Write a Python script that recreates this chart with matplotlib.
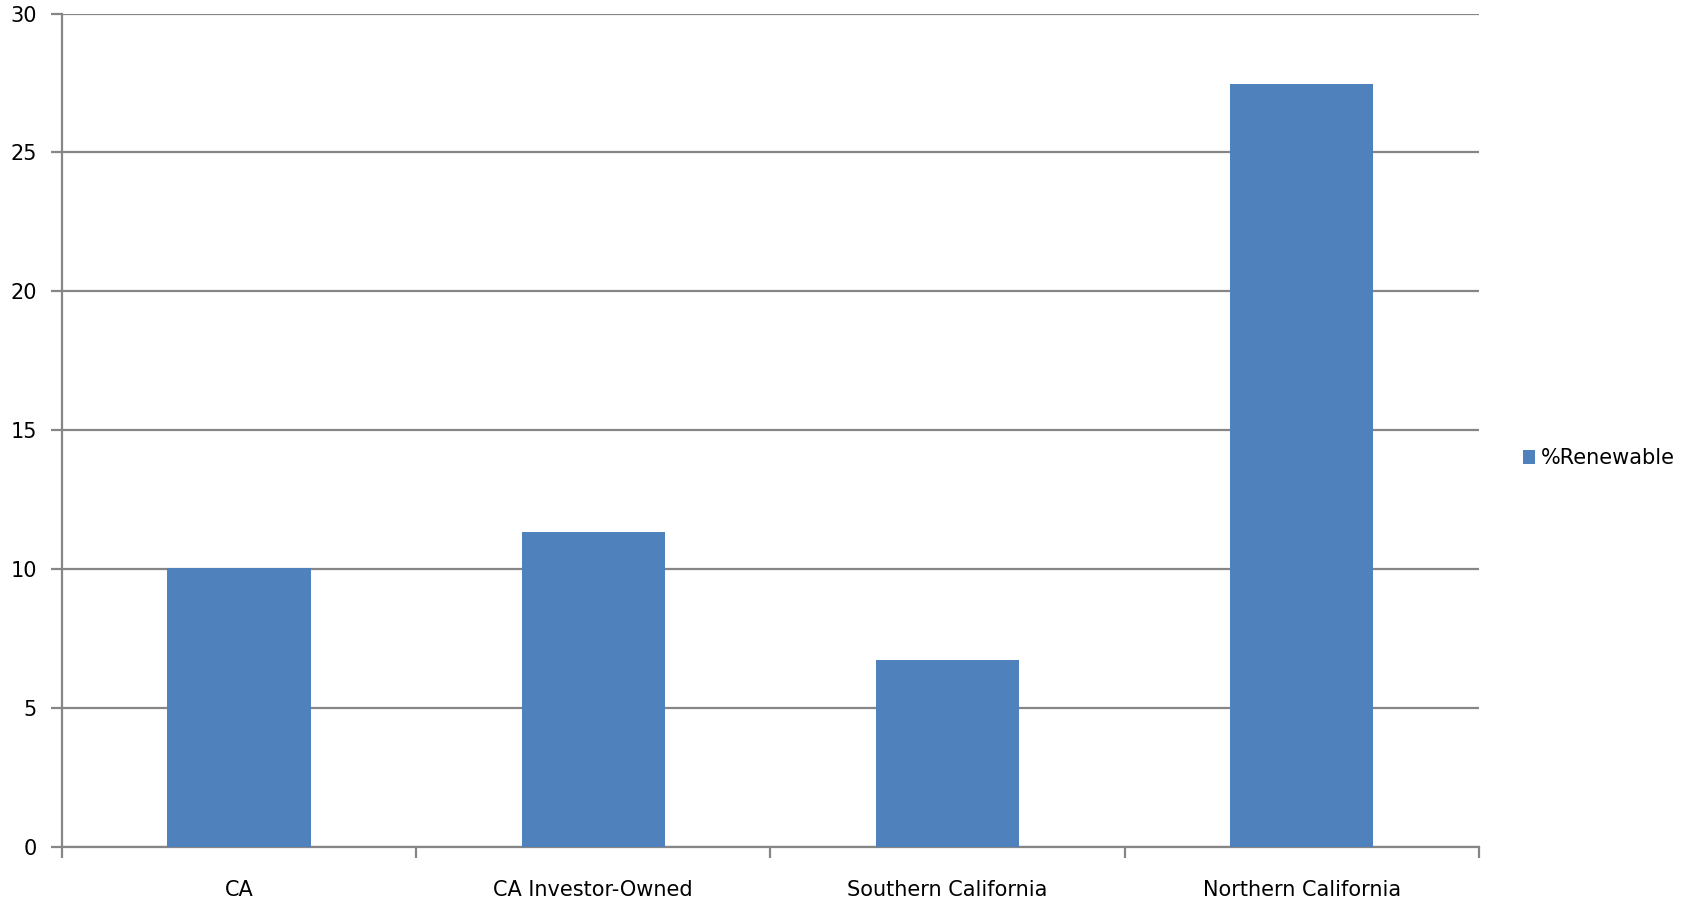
import matplotlib
matplotlib.use("Agg")
import matplotlib.pyplot as plt
from matplotlib.patches import Patch

regions = ["CA", "CA Investor-Owned", "Southern California", "Northern California"]
renewable = [10.03, 11.34, 6.73, 27.47]
yticks = [0, 5, 10, 15, 20, 25, 30]

bar_color = "#4F81BD"
grid_color = "#868686"

plt.rcParams["font.family"] = ["DejaVu Sans"]

fig = plt.figure(figsize=(16.9, 9.06), dpi=100)
ax = fig.add_axes([0.0367, 0.0651, 0.8383, 0.9199])

x = range(len(regions))
ax.bar(x, renewable, width=0.405, color=bar_color, zorder=3)

ax.set_xlim(-0.5, len(regions) - 0.5)
ax.set_ylim(0, 30)
ax.set_yticks(yticks)
ax.set_yticklabels([str(v) for v in yticks], fontsize=15)
ax.yaxis.grid(True, color=grid_color, linewidth=1.6, zorder=0)

# category labels in the middle, tick marks on the boundaries
ax.set_xticks(list(x))
ax.set_xticklabels(regions, fontsize=15)
ax.tick_params(axis="x", length=0, pad=24)
ax.set_xticks([i - 0.5 for i in range(len(regions) + 1)], minor=True)
ax.tick_params(axis="x", which="minor", length=8, width=1.6, color=grid_color)
ax.tick_params(axis="y", length=8, width=1.6, color=grid_color, pad=10)

for side in ["top", "right"]:
    ax.spines[side].set_visible(False)
for side in ["left", "bottom"]:
    ax.spines[side].set_color(grid_color)
    ax.spines[side].set_linewidth(1.6)

handle = Patch(facecolor=bar_color, edgecolor="none", label="%Renewable")
fig.legend(handles=[handle], loc="center left", bbox_to_anchor=(0.895, 0.494),
           frameon=False, fontsize=15, handlelength=0.6, handleheight=0.6,
           handletextpad=0.25, borderpad=0)

fig.savefig("out.png", dpi=100)
